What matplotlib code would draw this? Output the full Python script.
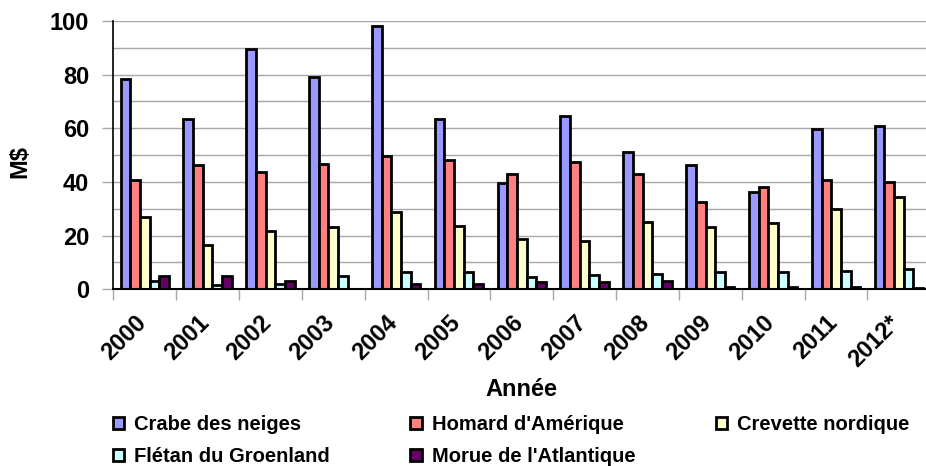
import matplotlib
matplotlib.use("Agg")
import matplotlib.pyplot as plt
import matplotlib.transforms as mtransforms
import numpy as np

years = ["2000", "2001", "2002", "2003", "2004", "2005", "2006", "2007",
         "2008", "2009", "2010", "2011", "2012*"]
series_names = ["Crabe des neiges", "Homard d'Amérique", "Crevette nordique",
                "Flétan du Groenland", "Morue de l'Atlantique"]
crabe = [78.4, 63.5, 89.6, 79.3, 98.3, 63.4, 39.5, 64.6, 51.2, 46.3, 36.1, 59.8, 60.9]
homard = [40.7, 46.5, 43.7, 46.8, 49.8, 48.3, 43.0, 47.6, 43.1, 32.4, 38.0, 40.6, 40.0]
crevette = [27.0, 16.6, 21.9, 23.4, 28.9, 23.7, 18.6, 18.0, 25.1, 23.4, 24.6, 29.8, 34.3]
fletan = [3.2, 1.5, 1.9, 4.8, 6.3, 6.3, 4.7, 5.3, 5.6, 6.3, 6.3, 6.7, 7.7]
morue = [5.0, 5.0, 3.1, 0.1, 2.0, 2.0, 2.7, 2.9, 3.0, 0.7, 1.0, 0.7, 0.3]
yticks = [0, 20, 40, 60, 80, 100]

colors = ["#9999FF", "#FF8080", "#FFFFCC", "#CCFFFF", "#660066"]

plt.rcParams['font.family'] = ['Liberation Sans', 'DejaVu Sans']
plt.rcParams['font.weight'] = 'bold'

fig = plt.figure(figsize=(9.26, 4.66), dpi=100)
W, H = 926, 466
left_px, right_px, top_px, bot_px = 113.3, 930.3, 21.0, 289.3
ax = fig.add_axes([left_px / W, 1 - bot_px / H, (right_px - left_px) / W, (bot_px - top_px) / H])

data = [crabe, homard, crevette, fletan, morue]
n = len(years)
x = np.arange(n) + 0.5
bw = 0.1537
bars = []
for j, (vals, c, name) in enumerate(zip(data, colors, series_names)):
    b = ax.bar(x + (j - 2) * bw, vals, width=bw, color=c, edgecolor="black",
               linewidth=2.0, label=name, zorder=3)
    bars.append(b)

ax.set_xlim(0, n)
ax.set_ylim(0, 100)

# gridlines every 10
ax.set_yticks(yticks)
ax.set_yticks(np.arange(10, 100, 20), minor=True)
ax.yaxis.grid(True, which='both', color="#a8a8a8", linewidth=1.0, zorder=0)
ax.tick_params(axis='y', which='major', length=8, color="#a8a8a8", width=1.0,
               pad=13 * 0.72, labelsize=17)
ax.tick_params(axis='y', which='minor', length=0)
ax.set_yticklabels([str(v) for v in yticks], fontweight='bold')

ax.set_xticks(x)
ax.set_xticklabels(years, rotation=45, ha='right', va='top', fontweight='bold', fontsize=17)
ax.set_xticks(np.arange(0, n + 1), minor=True)
ax.tick_params(axis='x', which='major', length=0, pad=22 * 0.72)
ax.tick_params(axis='x', which='minor', length=8, color="#a8a8a8", width=1.0)
offset = mtransforms.ScaledTranslation(6 / 100, 0, fig.dpi_scale_trans)
for lab in ax.get_xticklabels():
    lab.set_transform(lab.get_transform() + offset)

for s in ["top", "right"]:
    ax.spines[s].set_visible(False)
ax.spines["left"].set_color("black")
ax.spines["left"].set_linewidth(1.2)
ax.spines["bottom"].set_color("black")
ax.spines["bottom"].set_linewidth(1.5)
ax.spines["bottom"].set_zorder(4)

fig.text(20 / W, 1 - 161 / H, "M$", rotation=90, ha='center', va='center',
         fontsize=17, fontweight='bold')
fig.text(521 / W, 1 - 389 / H, "Année", ha='center', va='center',
         fontsize=17, fontweight='bold')

# legend filled column-wise: reorder so that rows read like the reference
order = [0, 3, 1, 4, 2]
fs = 14.5
leg = fig.legend(handles=[bars[i] for i in order],
                 labels=[series_names[i] for i in order], ncol=3, loc='upper left',
                 bbox_to_anchor=(113 / W, 1 - 415 / H), frameon=False,
                 fontsize=fs, handlelength=0.55, handleheight=0.55,
                 handletextpad=0.5, columnspacing=4.0, labelspacing=0.65,
                 borderpad=0, borderaxespad=0)
for t in leg.get_texts():
    t.set_fontweight('bold')

fig.savefig("out.png", dpi=100)
